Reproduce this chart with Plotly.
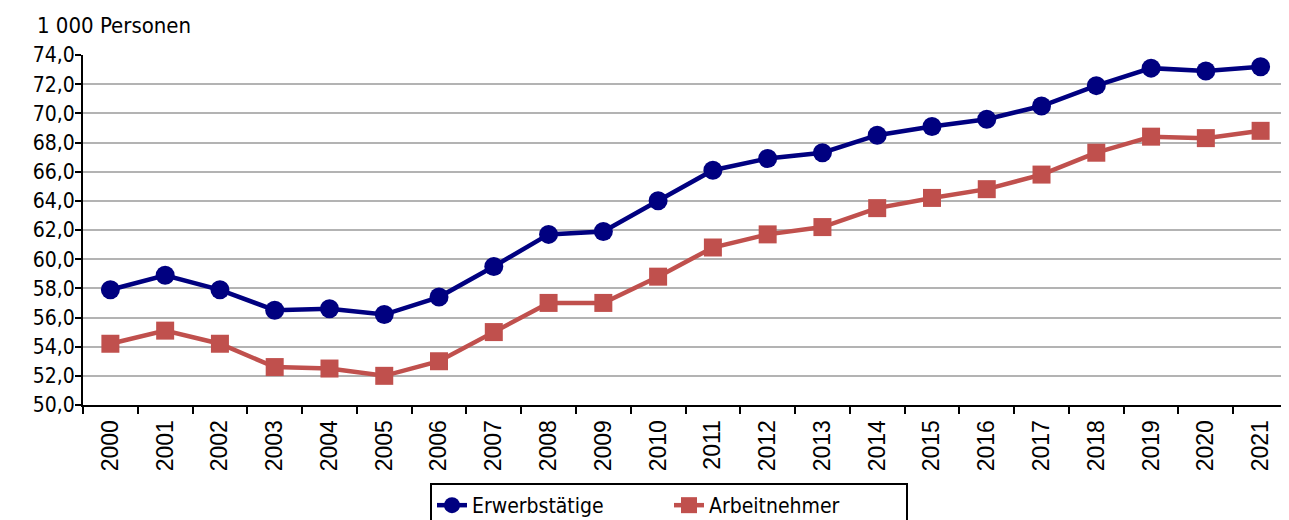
import plotly.graph_objects as go

# Erwerbstätige und Arbeitnehmer, in 1 000 Personen
jahre = [str(j) for j in range(2000, 2022)]
erwerbstaetige = [57.9, 58.9, 57.9, 56.5, 56.6, 56.2, 57.4, 59.5, 61.7, 61.9, 64.0,
                  66.1, 66.9, 67.3, 68.5, 69.1, 69.6, 70.5, 71.9, 73.1, 72.9, 73.2]
arbeitnehmer = [54.2, 55.1, 54.2, 52.6, 52.5, 52.0, 53.0, 55.0, 57.0, 57.0, 58.8,
                60.8, 61.7, 62.2, 63.5, 64.2, 64.8, 65.8, 67.3, 68.4, 68.3, 68.8]

FONT = "DejaVu Sans Condensed, sans-serif"

fig = go.Figure()
fig.add_trace(go.Scatter(
    x=jahre, y=erwerbstaetige, name="Erwerbstätige",
    mode="lines+markers",
    line=dict(color="#000080", width=4.5),
    marker=dict(symbol="circle", size=19, color="#000080"),
))
fig.add_trace(go.Scatter(
    x=jahre, y=arbeitnehmer, name="Arbeitnehmer",
    mode="lines+markers",
    line=dict(color="#C0504D", width=4.5),
    marker=dict(symbol="square", size=18, color="#C0504D"),
))

# die Seite hat 8 px Rand, daher die Ränder etwas kleiner
fig.update_layout(
    width=1289, height=520,
    margin=dict(l=75, r=9, t=47, b=123),
    paper_bgcolor="white", plot_bgcolor="white",
    font=dict(family=FONT, size=22, color="black"),
    separators=", ",
    showlegend=True,
    legend=dict(
        orientation="h", xref="container", yref="container",
        x=0.5128, xanchor="center", y=0.0865, yanchor="top",
        bordercolor="black", borderwidth=2, font=dict(size=21),
        entrywidth=192, entrywidthmode="pixels",
    ),
    annotations=[dict(
        text="1 000 Personen", xref="paper", yref="paper",
        x=-0.04, y=1.0857, xanchor="left", yanchor="middle",
        showarrow=False, font=dict(size=22),
    )],
)
fig.update_xaxes(
    type="category", range=[-0.5, 21.5], automargin=False,
    tickangle=-90, tickson="boundaries",
    ticks="outside", ticklen=7, tickwidth=2, tickcolor="black",
    ticklabelstandoff=4,
    showline=True, linecolor="black", linewidth=2,
    showgrid=False, tickfont=dict(family="Liberation Sans, Arial, sans-serif", size=23),
)
fig.update_yaxes(
    range=[50, 74], dtick=2, tickformat=".1f", automargin=False,
    ticks="outside", ticklen=6, tickwidth=2, tickcolor="black",
    ticklabelstandoff=-4,
    showline=True, linecolor="black", linewidth=2,
    showgrid=True, gridcolor="#b3b3b3", gridwidth=1.5,
    zeroline=False, tickfont=dict(size=21),
)

fig.write_html("out.html")
